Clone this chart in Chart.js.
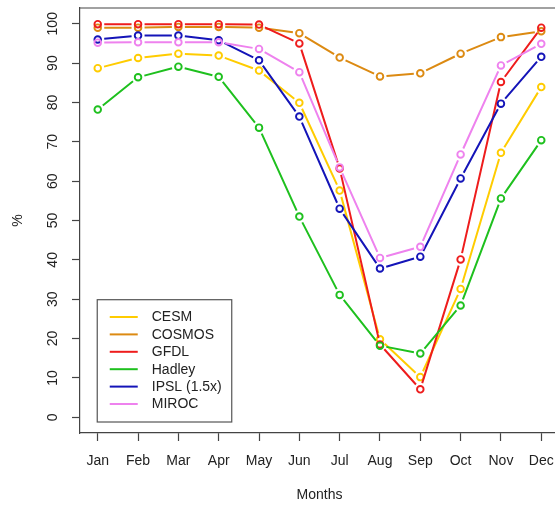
<!DOCTYPE html>
<html><head><meta charset="utf-8">
<script src="https://cdn.jsdelivr.net/npm/chart.js@4"></script>
<style>html,body{margin:0;padding:0;overflow:hidden;background:#fff}#c{display:block;width:555px;height:505px}</style>
</head><body><canvas id="c" width="555" height="505"></canvas>
<script>
const months = ['Jan','Feb','Mar','Apr','May','Jun','Jul','Aug','Sep','Oct','Nov','Dec'];
const seriesNames = ['CESM','COSMOS','GFDL','Hadley','IPSL (1.5x)','MIROC'];
const cesm   = [88.7, 91.3, 92.4, 91.9, 88.1, 79.9, 57.6, 19.8, 10.2, 32.6, 67.2, 83.9];
const cosmos = [99.0, 99.0, 99.2, 99.2, 99.0, 97.6, 91.4, 86.6, 87.4, 92.4, 96.6, 98.1];
const gfdl   = [99.9, 99.9, 99.9, 99.9, 99.8, 95.0, 63.2, 18.5, 7.1, 40.1, 85.2, 99.0];
const hadley = [78.2, 86.4, 89.1, 86.5, 73.6, 51.0, 31.1, 18.2, 16.2, 28.4, 55.6, 70.4];
const ipsl   = [96.0, 97.0, 97.0, 95.8, 90.7, 76.4, 53.0, 37.8, 40.8, 60.7, 79.7, 91.6];
const miroc  = [95.2, 95.3, 95.3, 95.3, 93.6, 87.7, 63.5, 40.5, 43.3, 66.8, 89.4, 94.9];
const yTicks = [0,10,20,30,40,50,60,70,80,90,100];
const legendAt = {x: 1, y: 30};

const seriesValues = [cesm, cosmos, gfdl, hadley, ipsl, miroc];
const colors = ['#FFCC00','#DC8A12','#EE1C1C','#1EC01E','#1414B8','#EE82EE'];
const FONT = {family: "'Liberation Sans', Arial, sans-serif", size: 14};
const TXT = '#222';
const AXC = '#444';

// the plot box extends slightly past the right edge of the picture
const extendRight = {
  id: 'extendRight',
  afterLayout(chart) {
    const R = chart.width + 4;
    const a = chart.chartArea;
    a.right = R; a.width = R - a.left;
    const s = chart.scales.x;
    s.right = R; s.width = R - s.left;
    s.configure();
  }
};

const gapLines = {
  id: 'gapLines',
  beforeDatasetDraw(chart, args) {
    const ds = chart.data.datasets[args.index];
    const pts = args.meta.data;
    const ctx = chart.ctx, gap = 6.5;
    ctx.save();
    ctx.strokeStyle = ds.borderColor; ctx.lineWidth = 2; ctx.lineCap = 'butt';
    ctx.beginPath();
    for (let j = 0; j < pts.length - 1; j++) {
      const a = pts[j], b = pts[j+1];
      const dx = b.x - a.x, dy = b.y - a.y, L = Math.hypot(dx, dy);
      if (L <= 2*gap) continue;
      const ux = dx/L, uy = dy/L;
      ctx.moveTo(a.x + ux*gap, a.y + uy*gap);
      ctx.lineTo(b.x - ux*gap, b.y - uy*gap);
    }
    ctx.stroke(); ctx.restore();
  }
};

const boxAndLegend = {
  id: 'boxAndLegend',
  beforeDatasetsDraw(chart) {
    const {ctx, chartArea: a} = chart;
    ctx.save(); ctx.strokeStyle = AXC; ctx.lineWidth = 1.2;
    ctx.beginPath();
    ctx.moveTo(a.left, a.top); ctx.lineTo(a.right, a.top); ctx.lineTo(a.right, a.bottom);
    ctx.stroke(); ctx.restore();
  },
  afterDatasetsDraw(chart) {
    const ctx = chart.ctx;
    const x0 = chart.scales.x.getPixelForValue(legendAt.x) - 0.5;
    const y0 = chart.scales.y.getPixelForValue(legendAt.y) + 0.5;
    const w = 134.5, h = 122.3, row = 17.4;
    ctx.save();
    ctx.fillStyle = '#fff'; ctx.fillRect(x0, y0, w, h);
    ctx.strokeStyle = '#555'; ctx.lineWidth = 1.2; ctx.strokeRect(x0, y0, w, h);
    ctx.font = FONT.size + 'px ' + FONT.family;
    ctx.textBaseline = 'middle'; ctx.textAlign = 'left';
    chart.data.datasets.forEach((ds, i) => {
      const yy = y0 + 17.3 + i*row;
      ctx.strokeStyle = ds.borderColor; ctx.lineWidth = 2;
      ctx.beginPath(); ctx.moveTo(x0 + 12.5, yy); ctx.lineTo(x0 + 40.5, yy); ctx.stroke();
      ctx.fillStyle = TXT; ctx.fillText(ds.label, x0 + 54.5, yy + 0.5);
    });
    ctx.restore();
  }
};

const datasets = seriesNames.map((name, i) => ({
  label: name,
  data: seriesValues[i].map((v, j) => ({x: j + 1, y: v})),
  borderColor: colors[i],
  backgroundColor: 'rgba(0,0,0,0)',
  showLine: false,
  pointRadius: 3.3,
  pointBorderWidth: 1.9,
  pointBackgroundColor: 'rgba(0,0,0,0)',
  pointBorderColor: colors[i],
  pointHoverRadius: 3.3,
  order: seriesNames.length - i
}));

new Chart(document.getElementById('c'), {
  type: 'line',
  data: {datasets},
  plugins: [extendRight, gapLines, boxAndLegend],
  options: {
    responsive: false, maintainAspectRatio: false, animation: false,
    devicePixelRatio: 1,
    events: [],
    layout: {padding: {top: 8, right: 0, left: 0, bottom: 0}},
    plugins: {legend: {display: false}, tooltip: {enabled: false}},
    scales: {
      x: {
        type: 'linear', min: 0.56, max: 12.44,
        afterBuildTicks: s => { s.ticks = months.map((m, i) => ({value: i + 1})); },
        afterFit: s => { s.height = 72; s.paddingLeft = 0; s.paddingRight = 0; },
        ticks: {callback: v => months[v - 1], font: FONT, color: TXT, padding: 12, maxRotation: 0, autoSkip: false},
        grid: {drawOnChartArea: false, drawTicks: true, tickLength: 8, tickColor: AXC, color: AXC, tickWidth: 1.2},
        border: {display: true, color: AXC, width: 1.2},
        title: {display: true, text: 'Months', font: FONT, color: TXT, padding: {top: 0, bottom: 1}}
      },
      y: {
        min: -4, max: 104,
        afterBuildTicks: s => { s.ticks = yTicks.map(v => ({value: v})); },
        afterFit: s => { s.width = 80; s.paddingTop = 0; s.paddingBottom = 0; },
        ticks: {minRotation: 90, maxRotation: 90, crossAlign: 'center', padding: 7, font: FONT, color: TXT, autoSkip: false},
        grid: {drawOnChartArea: false, drawTicks: true, tickLength: 8, tickColor: AXC, color: AXC, tickWidth: 1.2},
        border: {display: true, color: AXC, width: 1.2},
        title: {display: true, text: '%', font: FONT, color: TXT, padding: {top: 10, bottom: 0}}
      }
    }
  }
});
</script>
</body></html>
